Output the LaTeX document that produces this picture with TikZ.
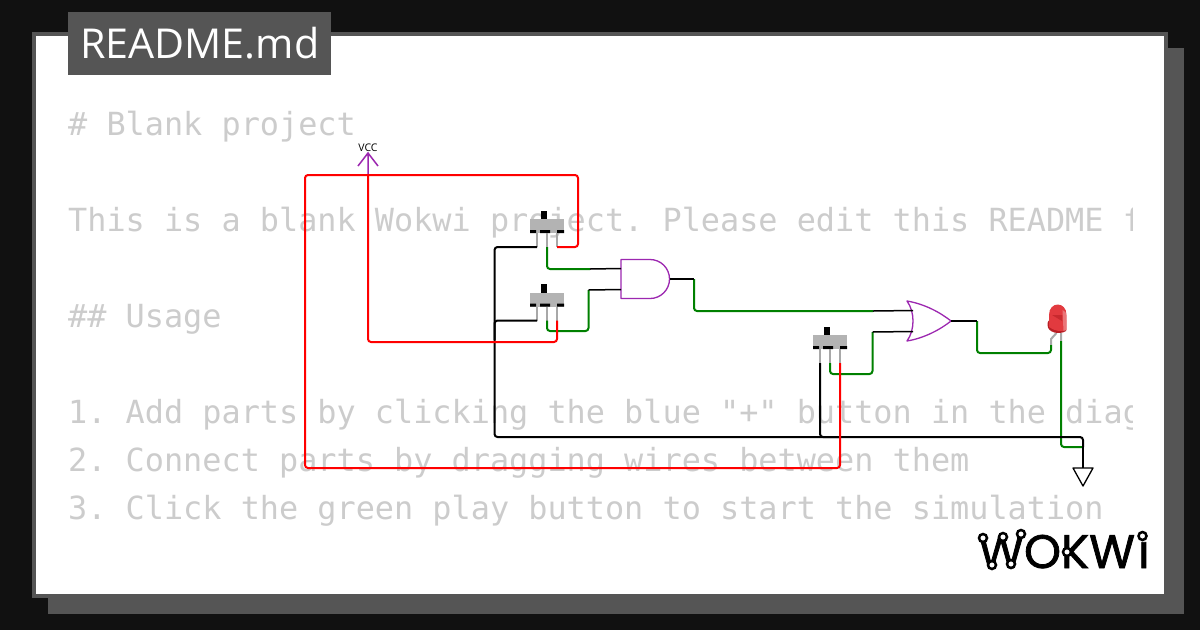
\documentclass[tikz,border=0pt]{standalone}
\usepackage{fontspec}
\setmainfont{Open Sans}
\setmonofont{DejaVu Sans Mono}
\newfontfamily\logofont[FakeBold=1.6]{Poppins}
\usetikzlibrary{arrows.meta,positioning,calc}
\definecolor{outerblack}{HTML}{111111}
\definecolor{panelgrey}{HTML}{555555}
\definecolor{ghost}{HTML}{CCCCCC}
\definecolor{gatepurple}{HTML}{9C27B0}
\definecolor{wiregreen}{HTML}{008000}
\definecolor{switchgrey}{HTML}{B3B3B3}
\definecolor{pingrey}{HTML}{A8A8A8}
\definecolor{ledred}{HTML}{E23A3F}
\definecolor{leddark}{HTML}{B81E24}
\tikzset{
  x=1pt, y=-1pt,
  mdline/.style={anchor=base west, inner sep=0pt, text=ghost, font=\fontsize{31.85}{32}\selectfont\ttfamily},
  wire/.style={line width=2pt, rounded corners=3pt},
  greenwire/.style={wire, draw=wiregreen},
  blackwire/.style={wire, draw=black},
  redwire/.style={wire, draw=red},
  stub/.style={line width=1.5pt, draw=black},
  gate/.style={draw=gatepurple, line width=1.3pt, fill=white, line join=round},
  slideswitch/.pic={
    \fill[switchgrey] (-17,-7) rectangle (17,7);
    \fill[black] (-6.5,-15.5) rectangle (0,-7);
    \fill[black] (-17,4) rectangle (-11,7) (-7,4) rectangle (3,7) (10,4) rectangle (17,7);
    \draw[pingrey, line width=2pt] (-10,7) -- (-10,21) (0,7) -- (0,21) (10,7) -- (10,21);
    \coordinate (-l) at (-10,21);
    \coordinate (-m) at (0,21);
    \coordinate (-r) at (10,21);
  },
  andgate/.pic={
    \draw[gate] (0,-19.5) -- (29,-19.5) .. controls (39.8,-19.5) and (48.5,-10.8) .. (48.5,0) .. controls (48.5,10.8) and (39.8,19.5) .. (29,19.5) -- (0,19.5) -- cycle;
    \coordinate (-a) at (0,-10.5);
    \coordinate (-b) at (0,10.5);
    \coordinate (-y) at (48.5,0);
  },
  orgate/.pic={
    \draw[gate] (0,-20) .. controls (18,-17) and (34,-8) .. (44,0) .. controls (34,8) and (18,17) .. (0,20) .. controls (8,9) and (8,-9) .. (0,-20) -- cycle;
    \coordinate (-a) at (6,-10.5);
    \coordinate (-b) at (6,10.5);
    \coordinate (-y) at (44,0);
  },
}
\begin{document}
\begin{tikzpicture}
\useasboundingbox (0,0) rectangle (1200,630);
\fill[outerblack] (0,0) rectangle (1200,630);
\fill[panelgrey] (48,48) rectangle (1184,614);
\draw[panelgrey, line width=4pt, fill=white] (34,34) rectangle (1166,596);
\fill[panelgrey] (68,12) rectangle (331,75);
\node[anchor=base west, inner sep=0pt, text=white, font=\fontsize{41.2}{42}\selectfont] (title) at (80,58) {README.md};

\begin{scope}
\clip (60,90) rectangle (1132,540);
\node[mdline] (line1) at (68,135) {\# Blank project};
\node[mdline] (line2) at (68,231) {This is a blank Wokwi project. Please edit this README f};
\node[mdline] (line3) at (68,327) {\#\# Usage};
\node[mdline] (line4) at (68,423) {1. Add parts by clicking the blue "+" button in the diag};
\node[mdline] (line5) at (68,471) {2. Connect parts by dragging wires between them};
\node[mdline] (line6) at (68,519) {3. Click the green play button to start the simulation};
\end{scope}

\pic (swa) at (547,226) {slideswitch};
\pic (swb) at (547,299.5) {slideswitch};
\pic (swc) at (830,342) {slideswitch};
\pic (anda) at (621,279) {andgate};
\pic (orb) at (907,321) {orgate};

\node[inner sep=0pt, font=\fontsize{10.5}{11}\selectfont] (vcclabel) at (368,148) {VCC};
\coordinate (vcc) at (368,153);
\draw[gatepurple, line width=1.5pt] (358,166) -- (vcc) -- (378,166) (vcc) -- (368,175);

\coordinate (gndtop) at (1083,468);
\coordinate (gndtip) at (1083,486);
\draw[black, line width=1.3pt, line join=round] (1073,468) -- (1093,468) -- (gndtip) -- cycle;

\coordinate (ledk) at (1051,345);
\coordinate (leda) at (1061,341);
\draw[pingrey, line width=2pt] (1056.5,333) -- (1051,339) -- (ledk) (1061,333) -- (leda);
\fill[leddark] (1047.5,325) .. controls (1047.5,321) and (1049,320) .. (1050,320) -- (1066,320) -- (1066,331) .. controls (1060,335) and (1047.5,333) .. (1047.5,325) -- cycle;
\fill[ledred] (1049,315) .. controls (1049,301) and (1066.5,301) .. (1066.5,315) -- (1066.5,330) .. controls (1061,332) and (1054,331) .. (1049,327) -- cycle;
\fill[leddark, opacity=.6] (1052,315) -- (1062,315) -- (1062,321) -- cycle;
\fill[white, opacity=.3] (1062.5,310) .. controls (1065,311) and (1066.5,313) .. (1066.5,315) -- (1066.5,330) -- (1063.5,331) -- cycle;

\coordinate (anda-in) at (590,269);
\coordinate (andb-in) at (588.5,290);
\coordinate (anda-out) at (694,279);
\coordinate (ora-in) at (873,311);
\coordinate (orb-in) at (872.5,332);
\coordinate (orb-out) at (977,321);
\coordinate (gndbus) at (1083,447);

\draw[greenwire] (swa-m) |- (anda-in);
\draw[greenwire] (swb-m) -- ++(0,10.5) -| (andb-in);
\draw[greenwire] (anda-out) |- (ora-in);
\draw[greenwire] (swc-m) -- ++(0,11) -| (orb-in);
\draw[greenwire] (orb-out) -- ++(0,32) -| (ledk);
\draw[greenwire] (leda) |- (gndbus);

\draw[stub] (anda-in) -- (anda-a);
\draw[stub] (andb-in) -- (anda-b);
\draw[stub] (anda-y) -- (anda-out);
\draw[stub] (ora-in) -- (orb-a);
\draw[stub] (orb-in) -- (orb-b);
\draw[stub] (orb-y) -- (orb-out);

\draw[blackwire] (swa-l) -| (494.5,437) -- (1083,437) -- (gndbus);
\draw[blackwire] (swb-l) -| (494.5,340);
\draw[blackwire] (swc-l) -- (820,437) -- (840,437);
\draw[stub] (gndbus) -- (gndtop);

\draw[redwire] (swa-r) -- (578,247) -- (578,175) -- (305,175) -- (305,468) -- (840,468) -- (swc-r);
\draw[redwire] (swb-r) -- (557,342) -- (368,342) -- (368,175);

\node[inner sep=0pt, anchor=base west, font=\fontsize{47}{47}\logofont] (logo) at (978,568) {WOKW\kern3pt i};
\foreach \cx/\cy in {983/538,1003/537,1021/534,992/565,1011/564,1067/552,1142.5/536}
  \draw[black, line width=2.5pt, fill=white] (\cx,\cy) circle[radius=4];
\end{tikzpicture}
\end{document}
